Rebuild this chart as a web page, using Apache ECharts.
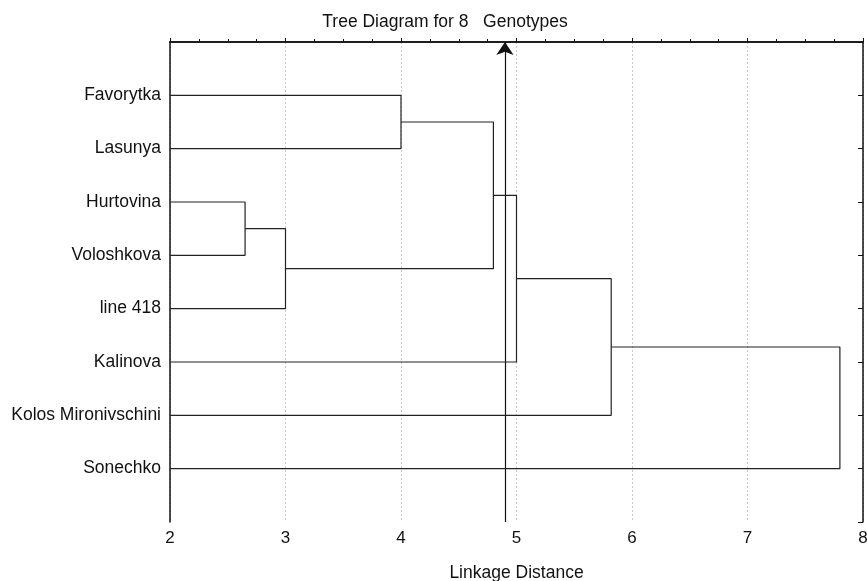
<!DOCTYPE html>
<html>
<head>
<meta charset="utf-8">
<style>
  html, body { margin: 0; padding: 0; background: #fff; }
  #chart { width: 867px; height: 581px; }
</style>
<script src="https://cdn.jsdelivr.net/npm/echarts@6/dist/echarts.min.js"></script>
</head>
<body>
<div id="chart"></div>
<script>
// tree diagram, leaves top to bottom
const genotypes = [
    "Favorytka", "Lasunya", "Hurtovina", "Voloshkova",
    "line 418", "Kalinova", "Kolos Mironivschini", "Sonechko"
];

// [nodeA, nodeB, linkage distance] ; new nodes get ids 8, 9, ...
const merges = [
    [2, 3, 2.65],
    [8, 4, 3.00],
    [0, 1, 4.00],
    [10, 9, 4.80],
    [11, 5, 5.00],
    [12, 6, 5.82],
    [13, 7, 7.80]
];

const cutDistance = 4.9;
const distTicks = [2, 3, 4, 5, 6, 7, 8];

const FONT = "Liberation Sans, Arial, sans-serif";
const xMin = distTicks[0];
const xMax = distTicks[distTicks.length - 1];
const yMax = genotypes.length + 1;

// leaf / cluster positions
const nodes = genotypes.map((g, i) => ({ x: xMin, y: i + 1 }));
const linkSeries = merges.map((m) => {
    const a = nodes[m[0]], b = nodes[m[1]], h = m[2];
    nodes.push({ x: h, y: (a.y + b.y) / 2 });
    return {
        type: "line",
        symbol: "none",
        silent: true,
        animation: false,
        lineStyle: { color: "#222", width: 1.2 },
        data: [[a.x, a.y], [h, a.y], [h, b.y], [b.x, b.y]]
    };
});

const chart = echarts.init(document.getElementById("chart"));
chart.setOption({
    backgroundColor: "#fff",
    animation: false,
    title: {
        text: "Tree Diagram for 8   Genotypes",
        left: 440, top: 8, textAlign: "center",
        textStyle: { fontFamily: FONT, fontSize: 17.5, fontWeight: "normal", color: "#111" }
    },
    grid: { left: 170, right: 4, top: 42, bottom: 59, outerBoundsMode: "none" },
    xAxis: [
        {
            type: "value", min: xMin, max: xMax, interval: 1, position: "bottom",
            name: "Linkage Distance", nameLocation: "middle", nameGap: 42,
            nameTextStyle: { fontFamily: FONT, fontSize: 17.5, color: "#111" },
            axisLine: { show: true, lineStyle: { color: "#111", width: 1.5 } },
            axisTick: { inside: true, length: 4, lineStyle: { color: "#111" } },
            minorTick: { show: true, splitNumber: 4, length: 3, lineStyle: { color: "#111" } },
            axisLabel: { fontFamily: FONT, fontSize: 17, color: "#111", margin: 8 },
            splitLine: { show: true, lineStyle: { color: "#c8c8c8", type: [2, 2], width: 1 } }
        },
        {
            type: "value", min: xMin, max: xMax, interval: 1, position: "top",
            axisLine: { show: true, lineStyle: { color: "#111", width: 1.5 } },
            axisTick: { inside: false, length: 4, lineStyle: { color: "#111" } },
            minorTick: { show: true, splitNumber: 4, length: 3, lineStyle: { color: "#111" } },
            axisLabel: { show: false },
            splitLine: { show: false }
        }
    ],
    yAxis: [
        {
            type: "value", min: 0, max: yMax, interval: 1, inverse: true, position: "left",
            axisLine: { show: true, lineStyle: { color: "#111", width: 1.5 } },
            axisTick: { show: false },
            axisLabel: {
                fontFamily: FONT, fontSize: 17.5, color: "#111", margin: 9,
                formatter: (v) => genotypes[v - 1] || ""
            },
            splitLine: { show: false }
        },
        {
            type: "value", min: 0, max: yMax, interval: 1, inverse: true, position: "right",
            axisLine: { show: true, lineStyle: { color: "#111", width: 1.5 } },
            axisTick: { inside: true, length: 5, lineStyle: { color: "#111" } },
            axisLabel: { show: false },
            splitLine: { show: false }
        }
    ],
    series: linkSeries.concat([{
        type: "lines",
        coordinateSystem: "cartesian2d",
        silent: true,
        animation: false,
        symbol: ["none", "arrow"],
        symbolSize: [7, 13],
        lineStyle: { color: "#111", width: 1.2, opacity: 1 },
        data: [{ coords: [[cutDistance, yMax], [cutDistance, 0]] }]
    }])
});
</script>
</body>
</html>
